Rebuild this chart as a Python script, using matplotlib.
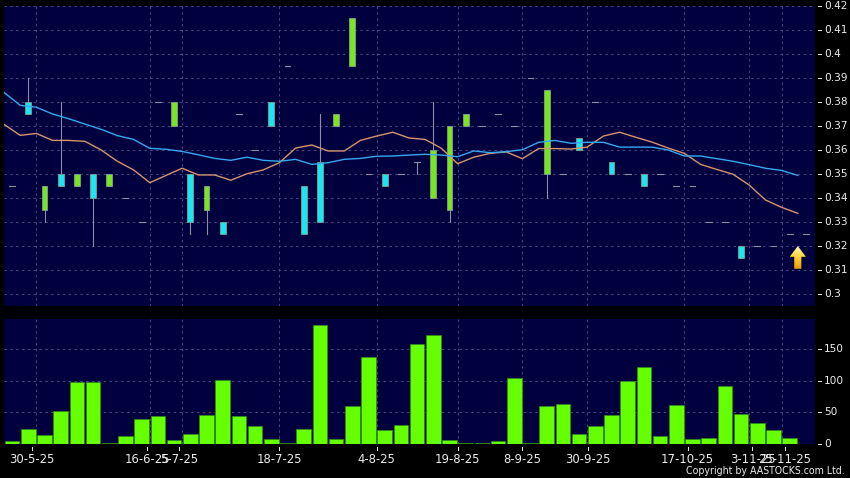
import numpy as np
import matplotlib
matplotlib.use('Agg')
import matplotlib.pyplot as plt
from matplotlib.patches import Polygon, Rectangle
from matplotlib.colors import LinearSegmentedColormap

# candles: open, close, high, low (open > close here only means colour)
opens = [0.345, 0.38, 0.335, 0.35, 0.345, 0.35, 0.345, 0.34, 0.33, 0.38,
         0.37, 0.35, 0.335, 0.33, 0.375, 0.36, 0.38, 0.395, 0.345, 0.355,
         0.37, 0.395, 0.35, 0.35, 0.35, 0.355, 0.34, 0.335, 0.37, 0.37,
         0.375, 0.37, 0.39, 0.35, 0.35, 0.365, 0.38, 0.355, 0.35, 0.35,
         0.35, 0.345, 0.345, 0.33, 0.33, 0.32, 0.32, 0.32, 0.325, 0.325]
closes = [0.345, 0.375, 0.345, 0.345, 0.35, 0.34, 0.35, 0.34, 0.33, 0.38,
          0.38, 0.33, 0.345, 0.325, 0.375, 0.36, 0.37, 0.395, 0.325, 0.33,
          0.375, 0.415, 0.35, 0.345, 0.35, 0.355, 0.36, 0.37, 0.375, 0.37,
          0.375, 0.37, 0.39, 0.385, 0.35, 0.36, 0.38, 0.35, 0.35, 0.345,
          0.35, 0.345, 0.345, 0.33, 0.33, 0.315, 0.32, 0.32, 0.325, 0.325]
highs = [0.345, 0.39, 0.345, 0.38, 0.35, 0.35, 0.35, 0.34, 0.33, 0.38,
         0.38, 0.35, 0.345, 0.33, 0.375, 0.36, 0.38, 0.395, 0.345, 0.375,
         0.375, 0.415, 0.35, 0.35, 0.35, 0.355, 0.38, 0.37, 0.375, 0.37,
         0.375, 0.37, 0.39, 0.385, 0.35, 0.365, 0.38, 0.355, 0.35, 0.35,
         0.35, 0.345, 0.345, 0.33, 0.33, 0.32, 0.32, 0.32, 0.325, 0.325]
lows = [0.345, 0.375, 0.33, 0.345, 0.345, 0.32, 0.345, 0.34, 0.33, 0.38,
        0.37, 0.325, 0.325, 0.325, 0.375, 0.36, 0.37, 0.395, 0.325, 0.33,
        0.37, 0.395, 0.35, 0.345, 0.35, 0.35, 0.34, 0.33, 0.37, 0.37,
        0.375, 0.37, 0.39, 0.34, 0.35, 0.36, 0.38, 0.35, 0.35, 0.345,
        0.35, 0.345, 0.345, 0.33, 0.33, 0.315, 0.32, 0.32, 0.325, 0.325]

ma_blue = [0.384, 0.3786, 0.3778, 0.375, 0.373, 0.3708, 0.3686, 0.366, 0.3644, 0.3607,
           0.3603, 0.3594, 0.358, 0.3565, 0.3557, 0.357, 0.3557, 0.3553, 0.3561, 0.354,
           0.3547, 0.3561, 0.3565, 0.3574, 0.3575, 0.3579, 0.3582, 0.3579, 0.3572, 0.3596,
           0.3589, 0.3593, 0.3601, 0.3632, 0.364, 0.3628, 0.3632, 0.3632, 0.3612, 0.3612,
           0.3612, 0.36, 0.3575, 0.3575, 0.3564, 0.3553, 0.3539, 0.3524, 0.3515, 0.3494]
ma_orange = [0.3707, 0.3661, 0.3669, 0.364, 0.364, 0.3636, 0.36, 0.3553, 0.3517, 0.3464,
             0.3494, 0.3524, 0.3496, 0.3496, 0.3474, 0.3501, 0.3517, 0.3547, 0.3608, 0.3621,
             0.3596, 0.3596, 0.364, 0.3658, 0.3674, 0.365, 0.3644, 0.3607, 0.3543, 0.357,
             0.3586, 0.3592, 0.3564, 0.3606, 0.3606, 0.3604, 0.3612, 0.3658, 0.3674, 0.3653,
             0.3633, 0.3608, 0.3586, 0.354, 0.3519, 0.3499, 0.3454, 0.3392, 0.3361, 0.3336]

volumes = [4, 24, 14, 52, 98, 98, 2, 12, 40, 44,
           6, 16, 46, 102, 44, 28, 8, 2, 24, 188,
           8, 60, 138, 22, 30, 158, 172, 6, 2, 2,
           4, 104, 2, 60, 64, 16, 28, 46, 100, 122,
           12, 62, 8, 10, 92, 48, 34, 22, 10]

date_labels = ['30-5-25', '16-6-25', '5-7-25', '18-7-25', '4-8-25', '19-8-25',
               '8-9-25', '30-9-25', '17-10-25', '3-11-25', '25-11-25']
date_ticks = [1.73, 8.83, 10.8, 16.98, 23.0, 28.0, 32.0, 36.05, 42.2, 46.2, 48.2]
grid_x = [2, 9, 11, 17, 23, 28, 32, 36, 42, 46, 48]
price_ticks = [0.42, 0.41, 0.4, 0.39, 0.38, 0.37, 0.36, 0.35, 0.34, 0.33, 0.32, 0.31, 0.3]
vol_ticks = [0, 50, 100, 150]

W, H = 850, 478
BG = '#00003f'
GRID = '#4a4a82'
GRID_DASH = (0, (2.5, 3.5))
WICK = '#8f8f9f'
TXT = '#ececec'
XMAX = 811 / 16.2

fig = plt.figure(figsize=(W / 100, H / 100), dpi=100, facecolor='black')


def panel(left, top, right, bottom):
    return fig.add_axes([left / W, 1 - bottom / H, (right - left) / W, (bottom - top) / H],
                        facecolor=BG)


ax = panel(4, 6, 815, 306)
ax2 = panel(4, 319, 815, 444)

for a in (ax, ax2):
    a.set_xlim(0, XMAX)
    a.set_xticks([])
    a.set_yticks([])
    for s in a.spines.values():
        s.set_visible(False)
    a.set_axisbelow(True)
    for g in grid_x:
        a.axvline(g, color=GRID, lw=0.7, ls=GRID_DASH, zorder=1)

ax.set_ylim(0.295, 0.42)
ax2.set_ylim(0, 198)

# price panel
for v in price_ticks:
    ax.axhline(v, color=GRID, lw=0.7, ls=GRID_DASH, zorder=1)
    ax.plot([1.004, 1.008], [v, v], color=TXT, lw=0.7, clip_on=False,
            transform=ax.get_yaxis_transform())
    ax.text(1.0115, v, str(v), color=TXT, fontsize=7.6, va='center', ha='left',
            transform=ax.get_yaxis_transform())

for i in range(len(opens)):
    x = i + 0.5
    o, c, h, l = opens[i], closes[i], highs[i], lows[i]
    if o == c:
        # no change day, only a short dash (and maybe a wick)
        ax.plot([x - 0.18, x + 0.18], [o, o], color=WICK, lw=0.8, zorder=3)
        if h != l:
            ax.plot([x, x], [l, h], color=WICK, lw=0.8, zorder=3)
        continue
    col = '#19e6f0' if c < o else '#78e61e'
    ax.plot([x, x], [l, h], color=WICK, lw=0.8, zorder=3)
    ax.add_patch(Rectangle((x - 0.18, min(o, c)), 0.36, abs(o - c), facecolor=col,
                           edgecolor='#7f9f8f', lw=0.6, zorder=4))

k = np.arange(len(ma_blue))
ax.plot(k, ma_orange, color='#d8946e', lw=1.0, zorder=5)
ax.plot(k, ma_blue, color='#35a8f0', lw=1.0, zorder=5)

# yellow arrow on the last day
ax_x, ax_y = 49, 0.32
arrow = Polygon([(ax_x, ax_y), (ax_x + 0.5, ax_y - 0.0045), (ax_x + 0.22, ax_y - 0.0045),
                 (ax_x + 0.22, ax_y - 0.0095), (ax_x - 0.22, ax_y - 0.0095),
                 (ax_x - 0.22, ax_y - 0.0045), (ax_x - 0.5, ax_y - 0.0045)],
                closed=True, transform=ax.transData, facecolor='none', edgecolor='none')
ax.add_patch(arrow)
cmap = LinearSegmentedColormap.from_list('arrow', ['#fff7b0', '#ffd230', '#e89a10'])
im = ax.imshow(np.linspace(0, 1, 30).reshape(-1, 1), cmap=cmap, aspect='auto', zorder=6,
               extent=(ax_x - 0.5, ax_x + 0.5, ax_y - 0.0095, ax_y), origin='upper')
im.set_clip_path(arrow)
ax.set_xlim(0, XMAX)
ax.set_ylim(0.295, 0.42)

# volume panel
for v in vol_ticks:
    if v:
        ax2.axhline(v, color=GRID, lw=0.7, ls=GRID_DASH, zorder=1)
    ax2.plot([1.004, 1.008], [v, v], color=TXT, lw=0.7, clip_on=False,
             transform=ax2.get_yaxis_transform())
    ax2.text(1.0115, v, str(v), color=TXT, fontsize=7.6, va='center', ha='left',
             transform=ax2.get_yaxis_transform())

ax2.bar(k[:len(volumes)] + 0.5, volumes, width=0.9, color='#66ff00', edgecolor='#2c8c14',
        lw=0.5, zorder=3)

for t, lab in zip(date_ticks, date_labels):
    ax2.plot([t, t], [-0.025, -0.05], color=TXT, lw=0.7, clip_on=False,
             transform=ax2.get_xaxis_transform())
    ax2.text(t, -0.075, lab, color=TXT, fontsize=8.4, ha='center', va='top',
             transform=ax2.get_xaxis_transform())

fig.text(845 / W, 1 - 471 / H, 'Copyright by AASTOCKS.com Ltd.', color=TXT, fontsize=7.6,
         ha='right', va='center', fontstretch='condensed')

fig.savefig('out.png', dpi=100, facecolor='black')
